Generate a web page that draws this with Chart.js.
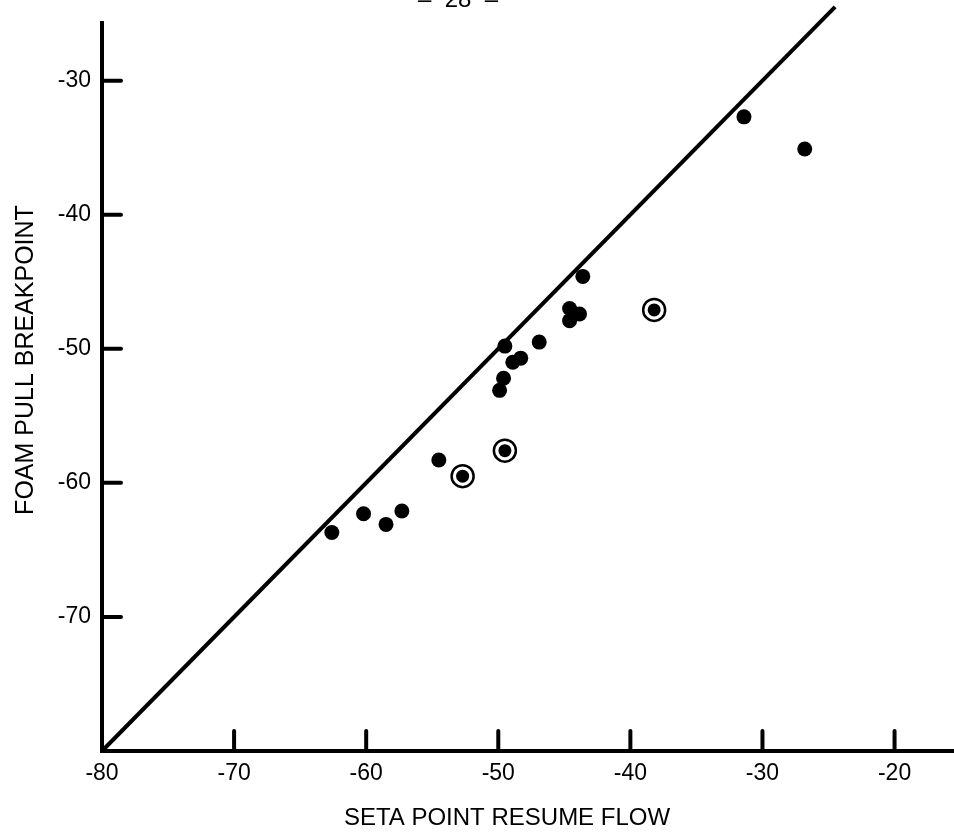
<!DOCTYPE html>
<html>
<head>
<meta charset="utf-8">
<script src="https://cdn.jsdelivr.net/npm/chart.js@4.4.1/dist/chart.umd.min.js"></script>
<style>
html,body{margin:0;padding:0;background:#fff;overflow:hidden}
#wrap{width:954px;height:833px;position:relative}
</style>
</head>
<body>
<div id="wrap"><canvas id="c" width="954" height="833"></canvas></div>
<script>
// ---- data ----
const xTickValues = [-80, -70, -60, -50, -40, -30, -20];
const yTickValues = [-70, -60, -50, -40, -30];

// plain filled dots
const dotX = [-31.4, -26.8, -43.6, -44.6, -43.85, -44.6, -46.9, -49.5, -48.3, -48.9, -49.6, -49.9, -54.5, -60.2, -58.5, -57.3, -62.6];
const dotY = [-32.7, -35.1, -44.6, -47.0, -47.4, -47.9, -49.5, -49.8, -50.7, -51.0, -52.2, -53.1, -58.3, -62.3, -63.1, -62.1, -63.7];

// circled dots
const ringX = [-38.2, -49.5, -52.7];
const ringY = [-47.1, -57.6, -59.5];

// reference line y = x
const lineX = [-80, -24.5];
const lineY = [-80, -24.5];

const xTitle = 'SETA POINT RESUME FLOW';
const yTitle = 'FOAM PULL BREAKPOINT';
const pageMark = '–  28  –';

const FONT = '"Liberation Sans", Arial, Helvetica, sans-serif';

const pts = (xs, ys) => xs.map((x, i) => ({x: x, y: ys[i]}));

const inwardTicks = {
  id: 'inwardTicks',
  afterDraw(chart) {
    const ctx = chart.ctx;
    const xs = chart.scales.x, ys = chart.scales.y;
    const area = chart.chartArea;
    ctx.save();
    ctx.strokeStyle = '#000';
    ctx.lineWidth = 4;
    ctx.lineCap = 'round';
    xs.ticks.forEach(t => {
      if (t.value === xs.min) return;
      const px = xs.getPixelForValue(t.value);
      ctx.beginPath();
      ctx.moveTo(px, area.bottom);
      ctx.lineTo(px, area.bottom - 20);
      ctx.stroke();
    });
    ys.ticks.forEach(t => {
      if (t.value === ys.min) return;
      const py = ys.getPixelForValue(t.value);
      ctx.beginPath();
      ctx.moveTo(area.left, py);
      ctx.lineTo(area.left + 19, py);
      ctx.stroke();
    });
    // axis titles and page mark
    ctx.fillStyle = '#000';
    ctx.textAlign = 'center';
    ctx.textBaseline = 'alphabetic';
    ctx.font = '24px ' + FONT;
    ctx.fillText(xTitle, 507, 825);
    ctx.fillText(pageMark, 458, 7);
    ctx.font = '25px ' + FONT;
    ctx.translate(33, 360);
    ctx.rotate(-Math.PI / 2);
    ctx.fillText(yTitle, 0, 0);
    ctx.restore();
  }
};

new Chart(document.getElementById('c'), {
  type: 'scatter',
  data: {
    datasets: [
      {
        type: 'line',
        data: pts(lineX, lineY),
        borderColor: '#000',
        borderWidth: 4,
        pointRadius: 0,
        fill: false,
        tension: 0,
        clip: false,
        order: 3
      },
      {
        data: pts(dotX, dotY),
        pointRadius: 7.5,
        backgroundColor: '#000',
        borderWidth: 0,
        order: 2
      },
      {
        data: pts(ringX, ringY),
        pointRadius: 11,
        backgroundColor: '#fff',
        borderColor: '#000',
        borderWidth: 2.5,
        order: 1
      },
      {
        data: pts(ringX, ringY),
        pointRadius: 6.5,
        backgroundColor: '#000',
        borderWidth: 0,
        order: 0
      }
    ]
  },
  options: {
    responsive: false,
    animation: false,
    events: [],
    layout: {autoPadding: false, padding: {top: 23, right: 0, bottom: 0, left: 0}},
    plugins: {legend: {display: false}, tooltip: {enabled: false}, title: {display: false}},
    scales: {
      x: {
        type: 'linear',
        min: -80,
        max: -15.5,
        afterBuildTicks: s => { s.ticks = xTickValues.map(v => ({value: v})); },
        afterFit: s => { s.height = 82; s.paddingLeft = 0; s.paddingRight = 0; },
        grid: {display: false, drawTicks: false},
        border: {display: true, color: '#000', width: 4},
        ticks: {
          color: '#000',
          padding: 9,
          maxRotation: 0,
          font: {family: FONT, size: 23},
          callback: v => String(v)
        }
      },
      y: {
        type: 'linear',
        min: -80,
        max: -25.7,
        afterBuildTicks: s => { s.ticks = yTickValues.map(v => ({value: v})); },
        afterFit: s => { s.width = 102; s.paddingTop = 0; s.paddingBottom = 0; },
        grid: {display: false, drawTicks: false},
        border: {display: true, color: '#000', width: 4},
        ticks: {
          color: '#000',
          padding: 11,
          font: {family: FONT, size: 23},
          callback: v => String(v)
        }
      }
    }
  },
  plugins: [inwardTicks]
});
</script>
</body>
</html>
